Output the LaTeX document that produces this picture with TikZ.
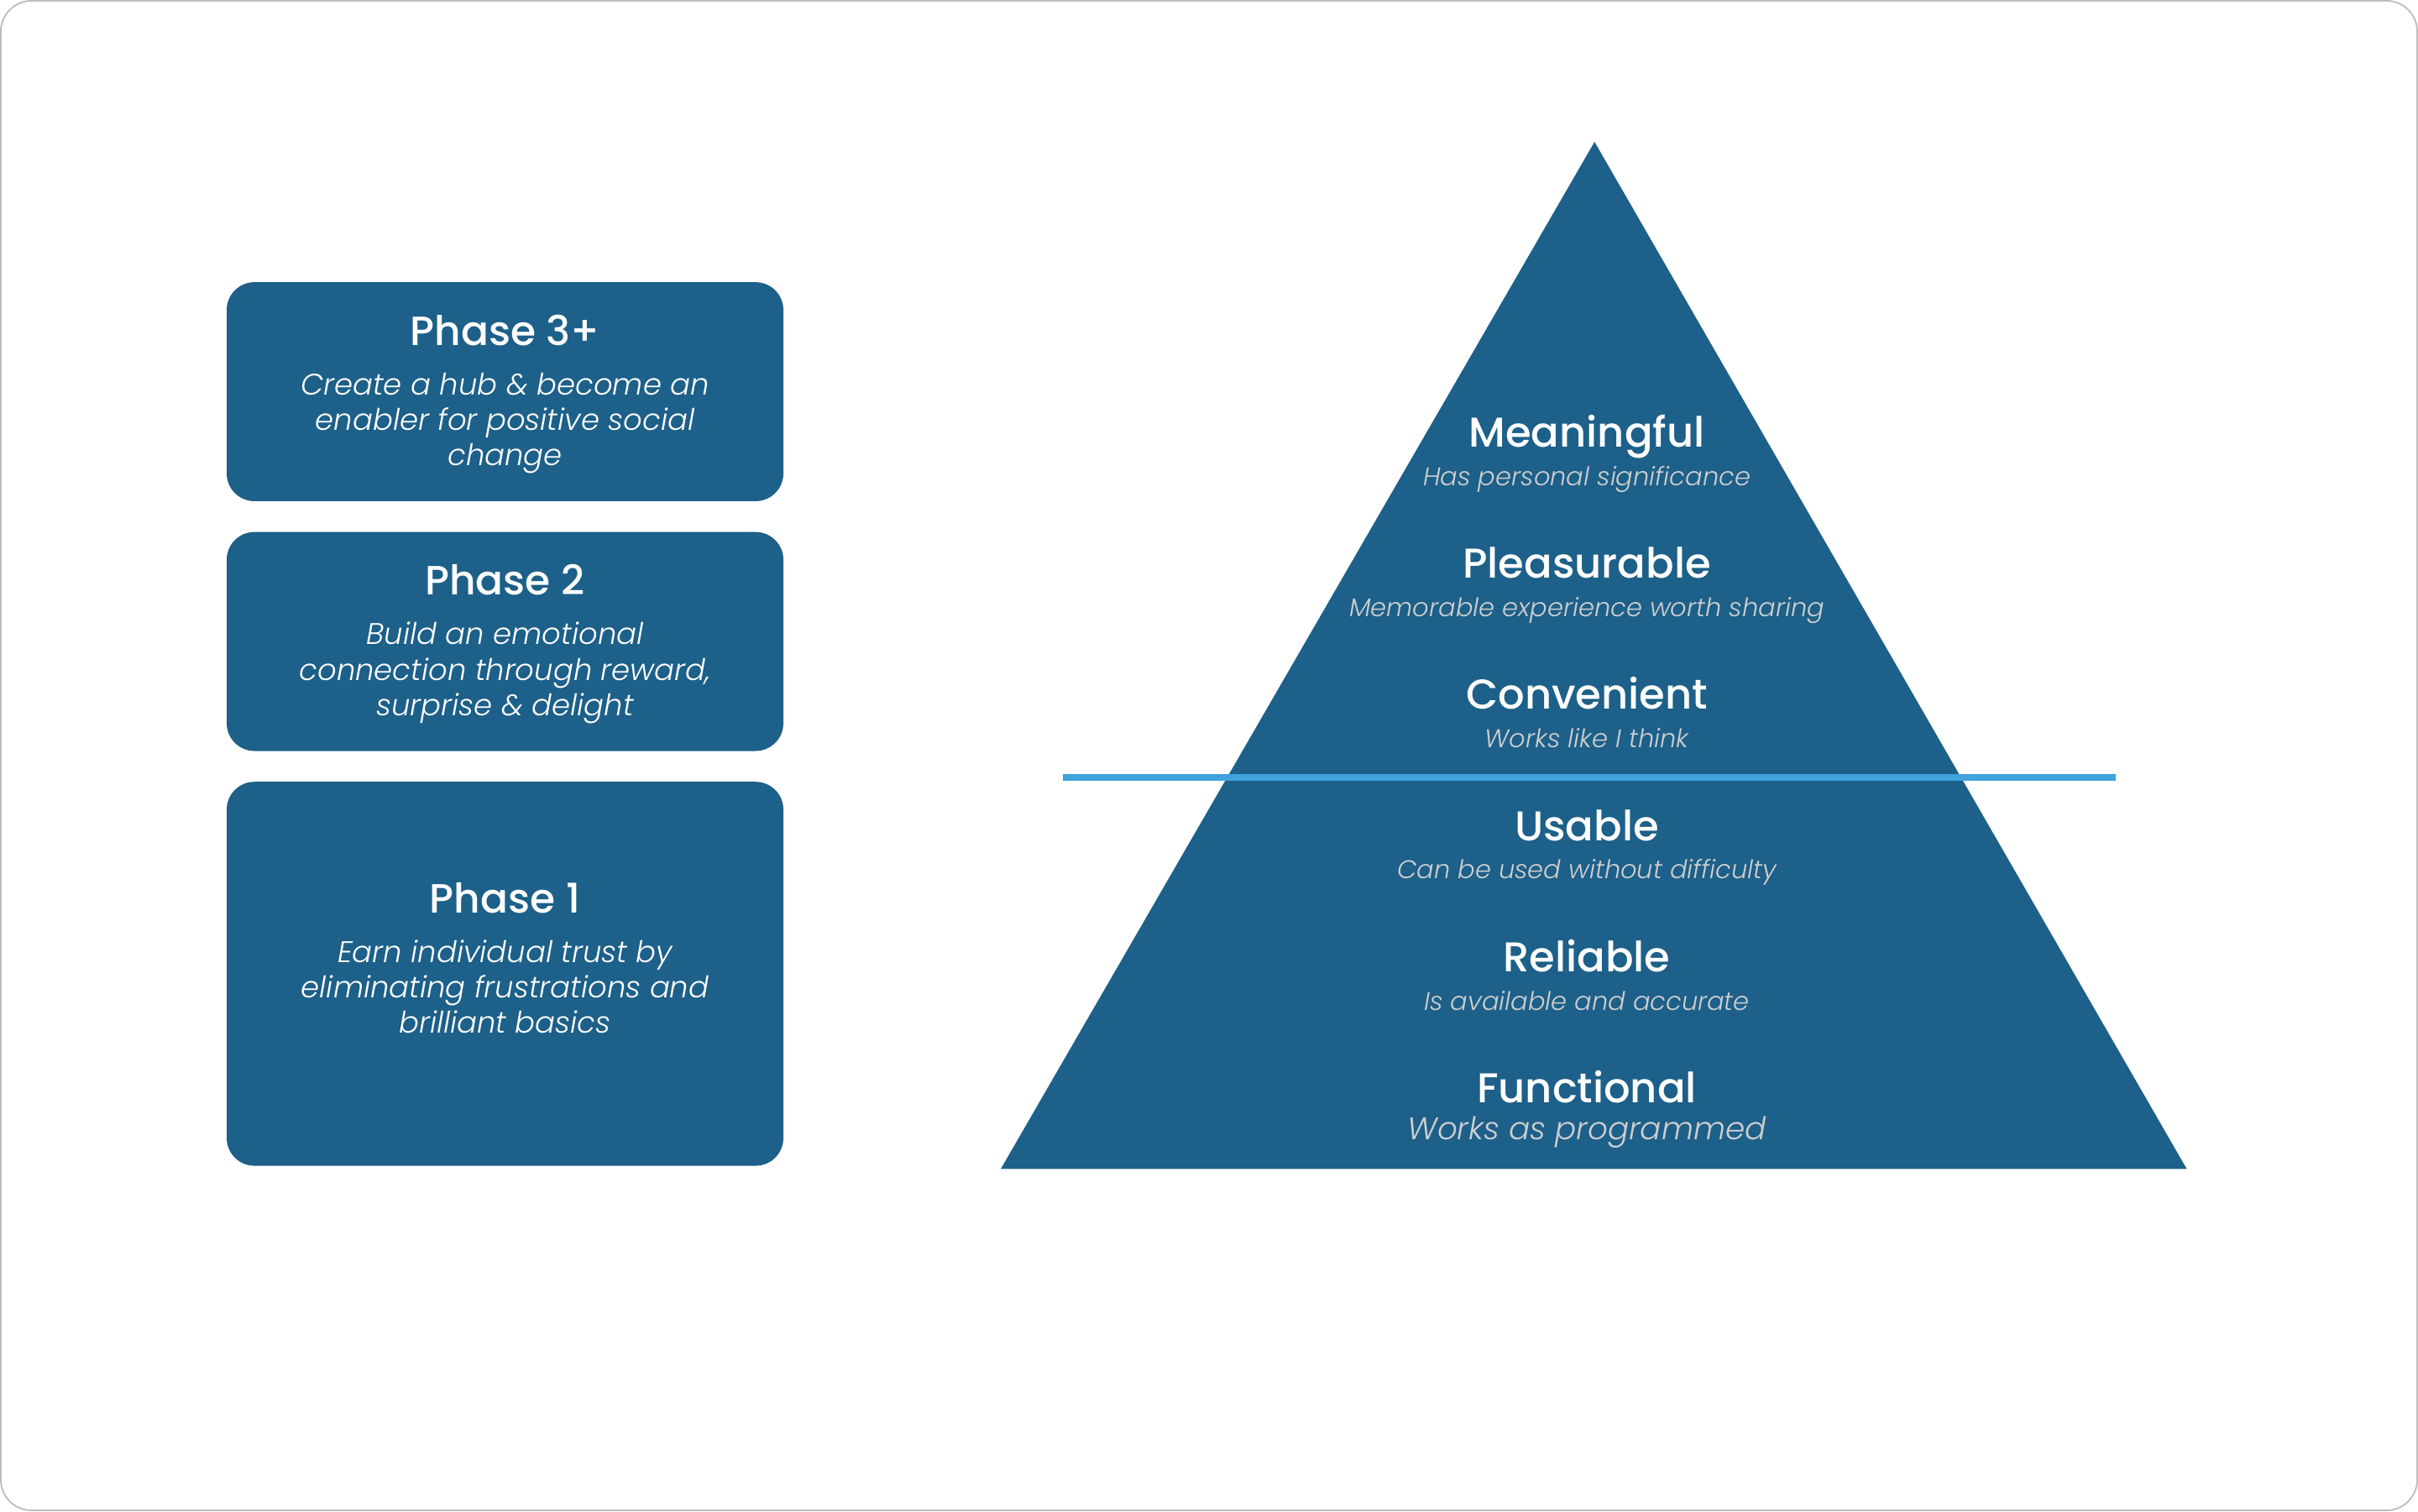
\documentclass[tikz,border=0pt]{standalone}
\usepackage{fontspec}
\setmainfont{Poppins}[ItalicFont={Poppins Light Italic},BoldFont={Poppins Medium}]
\definecolor{boxblue}{HTML}{1D6089}
\definecolor{lineblue}{HTML}{3FA3DC}
\definecolor{subgray}{HTML}{CFCFCF}
\definecolor{frame}{HTML}{BDBDBD}
\tikzset{
  phasebox/.style={fill=boxblue, draw=none, rounded corners=18pt, inner sep=0pt},
  phasetitle/.style={anchor=base, text=white, inner sep=0pt, font=\bfseries\fontsize{26.5}{30}\selectfont},
  phasedesc/.style={anchor=base, text=white, inner sep=0pt, font=\itshape\fontsize{19.3}{23}\selectfont},
  pyrtitle/.style={anchor=base, text=white, inner sep=0pt, font=\bfseries\fontsize{27}{30}\selectfont},
  pyrsub/.style={anchor=base, text=subgray, inner sep=0pt, font=\itshape\fontsize{16.6}{18}\selectfont},
  pyrsubbig/.style={anchor=base, text=subgray, inner sep=0pt, font=\itshape\fontsize{20.3}{23}\selectfont},
}
\begin{document}
\begin{tikzpicture}[x=1pt,y=-1pt]
\useasboundingbox (0,0) rectangle (1568,980);
\draw[draw=frame, line width=1pt, fill=white, rounded corners=20pt] (0.5,0.5) rectangle (1567.5,979.5);

% phase boxes
\node[phasebox, minimum width=361pt, minimum height=142pt] (p3) at (327.5,254) {};
\node[phasebox, minimum width=361pt, minimum height=142pt] (p2) at (327.5,416) {};
\node[phasebox, minimum width=361pt, minimum height=249pt] (p1) at (327.5,631.5) {};

\node[phasetitle] (p3t) at (327.5,224) {Phase 3+};
\node[phasedesc] (p3a) at (327.5,256) {Create a hub \& become an};
\node[phasedesc] (p3b) at (327.5,279) {enabler for positive social};
\node[phasedesc] (p3c) at (327.5,302) {change};

\node[phasetitle] (p2t) at (327.5,386) {Phase 2};
\node[phasedesc] (p2a) at (327.5,418) {Build an emotional};
\node[phasedesc] (p2b) at (327.5,441) {connection through reward,};
\node[phasedesc] (p2c) at (327.5,464) {surprise \& delight};

\node[phasetitle] (p1t) at (327.5,592) {Phase 1};
\node[phasedesc] (p1a) at (327.5,624) {Earn individual trust by};
\node[phasedesc] (p1b) at (327.5,647) {eliminating frustrations and};
\node[phasedesc] (p1c) at (327.5,670) {brilliant basics};

% pyramid
\fill[boxblue] (1034,92) -- (1418,758) -- (649,758) -- cycle;
\coordinate (ll) at (689,504);
\coordinate (lr) at (1372,504);
\draw[lineblue, line width=4.4pt] (ll) -- (lr);

\node[pyrtitle] (t6) at (1029,290) {Meaningful};
\node[pyrsub] (s6) at (1029,315) {Has personal significance};
\node[pyrtitle] (t5) at (1029,375) {Pleasurable};
\node[pyrsub] (s5) at (1029,400) {Memorable experience worth sharing};
\node[pyrtitle] (t4) at (1029,460) {Convenient};
\node[pyrsub] (s4) at (1029,485) {Works like I think};
\node[pyrtitle] (t3) at (1029,545) {Usable};
\node[pyrsub] (s3) at (1029,570) {Can be used without difficulty};
\node[pyrtitle] (t2) at (1029,630) {Reliable};
\node[pyrsub] (s2) at (1029,655) {Is available and accurate};
\node[pyrtitle] (t1) at (1029,715) {Functional};
\node[pyrsubbig] (s1) at (1029,739) {Works as programmed};
\end{tikzpicture}
\end{document}
